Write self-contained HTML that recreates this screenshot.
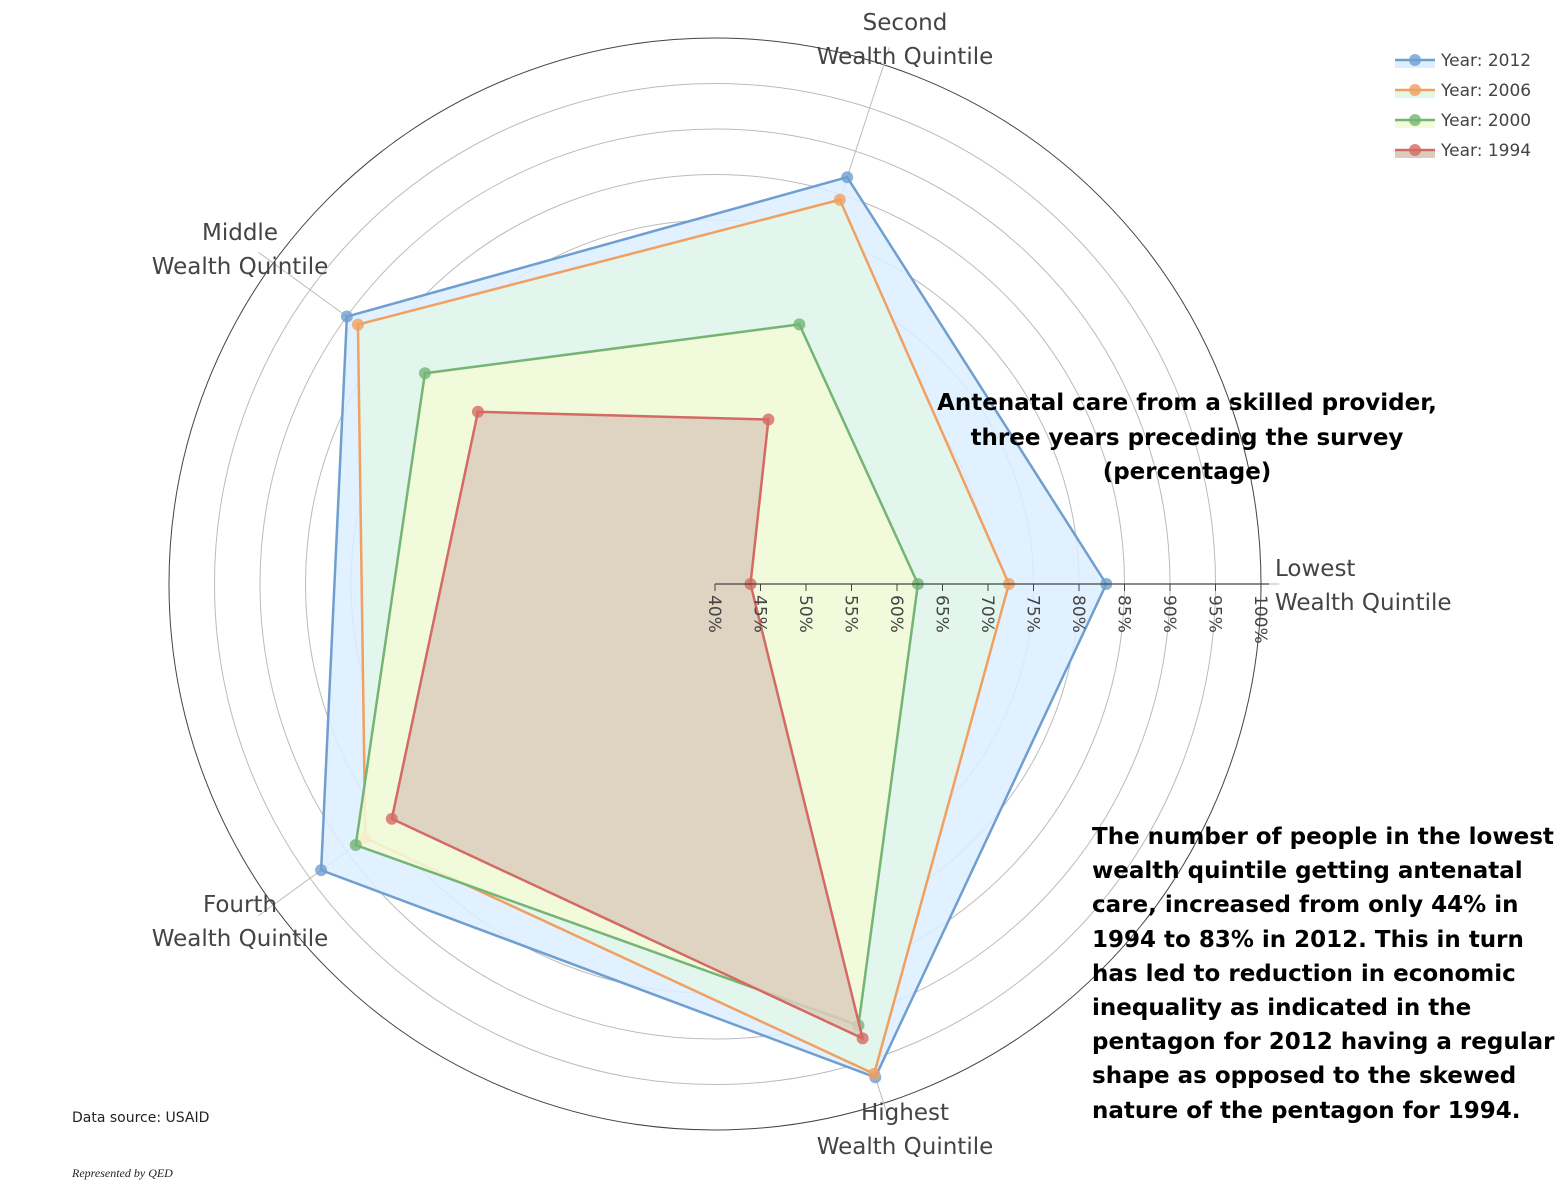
<!DOCTYPE html>
<html><head><meta charset="utf-8"><style>
body{margin:0;background:#fff;}
svg{display:block;font-family:"DejaVu Sans","Liberation Sans",sans-serif;}
</style></head><body>
<svg id="chart" width="1568" height="1188" viewBox="0 0 1568 1188">
<g id="grid"></g>
<g id="series"></g>
<g id="axis"></g>
<g id="catlabels"></g>
<g font-weight="bold" font-size="23" text-anchor="middle" fill="#000">
<text x="1187" y="410">Antenatal care from a skilled provider,</text>
<text x="1187" y="445">three years preceding the survey</text>
<text x="1187" y="479">(percentage)</text>
</g>
<g font-weight="bold" font-size="23" fill="#000">
<text x="1092" y="844">The number of people in the lowest</text>
<text x="1092" y="878">wealth quintile getting antenatal</text>
<text x="1092" y="912">care, increased from only 44% in</text>
<text x="1092" y="947">1994 to 83% in 2012. This in turn</text>
<text x="1092" y="981">has led to reduction in economic</text>
<text x="1092" y="1015">inequality as indicated in the</text>
<text x="1092" y="1049">pentagon for 2012 having a regular</text>
<text x="1092" y="1083">shape as opposed to the skewed</text>
<text x="1092" y="1118">nature of the pentagon for 1994.</text>
</g>
<text x="72" y="1122" font-size="14" fill="#222">Data source: USAID</text>
<text x="72" y="1177" font-size="12" font-style="italic" font-family="Liberation Serif,serif" fill="#222">Represented by QED</text>
<g id="legend"></g>
</svg>
<script>
const categories=["Lowest","Second","Middle","Fourth","Highest"];
const years=["Year: 2012","Year: 2006","Year: 2000","Year: 1994"];
const v2012=[83,87,90,93.5,97];
const v2006=[72.3,84.4,88.5,87.5,96.6];
const v2000=[62.3,70,79.4,88.8,91];
const v1994=[43.9,59,72.2,83.9,92.5];
const ticks=[40,45,50,55,60,65,70,75,80,85,90,95,100];
const seriesVals=[v2012,v2006,v2000,v1994];
const lineColors=["#6f9fd0","#f0a060","#74b474","#d46a64"];
const fillColors=["#ddeeff","#e2f7ea","#f3fbd8","#dcccbd"];
const NS="http://www.w3.org/2000/svg";
const cx=715,cy=584,R=546,rMin=40,rMax=100;
function rs(v){return (v-rMin)/(rMax-rMin)*R;}
function ang(i){return i*72*Math.PI/180;}
function pt(i,v){const r=rs(v),a=ang(i);return [cx+r*Math.cos(a),cy-r*Math.sin(a)];}
function mk(tag,attrs,parent){const e=document.createElementNS(NS,tag);for(const k in attrs)e.setAttribute(k,attrs[k]);parent.appendChild(e);return e;}
const grid=document.getElementById('grid');
ticks.forEach((t,k)=>{if(t===rMin)return;
const c=mk('circle',{cx:cx,cy:cy,r:rs(t),fill:'none',stroke:t===rMax?'#444':'#bbb','stroke-width':1},grid);

});
categories.forEach((c,i)=>{const p=pt(i,rMax+2);
const l=mk('line',{x1:cx,y1:cy,x2:p[0],y2:p[1],stroke:'#bbb','stroke-width':1},grid);

});
const sg=document.getElementById('series');
seriesVals.forEach((vals,s)=>{
const pts=vals.map((v,i)=>pt(i,v));
const poly=mk('polygon',{points:pts.map(p=>p.join(',')).join(' '),fill:fillColors[s],'fill-opacity':0.85,stroke:lineColors[s],'stroke-width':2.5},sg);


pts.forEach(p=>{const d=mk('circle',{cx:p[0],cy:p[1],r:6,fill:lineColors[s],'fill-opacity':0.8},sg);

});
});
const ax=document.getElementById('axis');
mk('line',{x1:cx,y1:cy,x2:cx+R+8,y2:cy,stroke:'#444','stroke-width':1.2},ax);
ticks.forEach(t=>{const x=cx+rs(t);
mk('line',{x1:x,y1:cy,x2:x,y2:cy+7,stroke:'#444'},ax);
const tx=mk('text',{x:0,y:0,transform:`translate(${x-6},${cy+11}) rotate(90)`,'font-size':17,fill:'#444'},ax);
tx.textContent=t+'%';

});
const cl=document.getElementById('catlabels');
const labelPos=[[1275,576,'start'],[905,30,'middle'],[240,240,'middle'],[240,912,'middle'],[905,1120,'middle']];
categories.forEach((c,i)=>{const [x,y,a]=labelPos[i];
const t=mk('text',{x:x,y:y,'font-size':23,fill:'#444','text-anchor':a},cl);


const s1=mk('tspan',{x:x,dy:0},t);s1.textContent=c;
const s2=mk('tspan',{x:x,dy:34},t);s2.textContent='Wealth Quintile';});
const lg=document.getElementById('legend');
years.forEach((y,s)=>{const yy=60+s*30;
const g=mk('g',{},lg);


mk('rect',{x:1395,y:yy,width:40,height:8,fill:fillColors[s]},g);
mk('line',{x1:1395,y1:yy,x2:1435,y2:yy,stroke:lineColors[s],'stroke-width':2.5},g);
mk('circle',{cx:1415,cy:yy,r:6,fill:lineColors[s],'fill-opacity':0.8},g);
const t=mk('text',{x:1441,y:yy+6,'font-size':17,fill:'#444'},g);t.textContent=y;});
</script>
</body></html>
